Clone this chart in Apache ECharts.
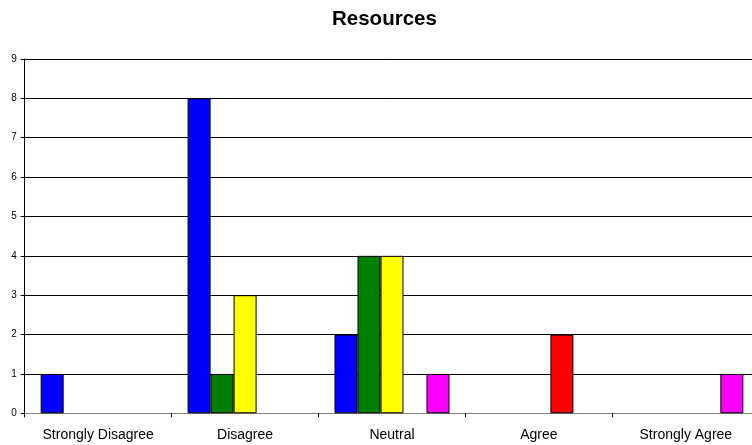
<!DOCTYPE html>
<html>
<head>
<meta charset="utf-8">
<title>Resources</title>
<script src="https://cdn.jsdelivr.net/npm/echarts@6/dist/echarts.min.js"></script>
<style>
  html, body { margin: 0; padding: 0; background: #fff; }
  #chart { width: 752px; height: 445px; }
</style>
</head>
<body>
<div id="chart"></div>
<script>
// Response categories along the x axis
const categories = ['Strongly Disagree', 'Disagree', 'Neutral', 'Agree', 'Strongly Agree'];

// Counts per group
const seriesA = [1, 8, 2, 0, 0];
const seriesB = [0, 1, 4, 0, 0];
const seriesC = [0, 3, 4, 0, 0];
const seriesD = [0, 0, 0, 2, 0];
const seriesE = [0, 0, 1, 0, 1];

const seriesNames = ['Series 1', 'Series 2', 'Series 3', 'Series 4', 'Series 5'];
const seriesColors = ['#0000ff', '#008000', '#ffff00', '#ff0000', '#ff00ff'];

// y axis ticks
const yMin = 0, yMax = 9, yStep = 1;

const allValues = [seriesA, seriesB, seriesC, seriesD, seriesE];

const chart = echarts.init(document.getElementById('chart'), null, { renderer: 'canvas' });

chart.setOption({
  animation: false,
  backgroundColor: '#ffffff',
  title: {
    text: 'Resources',
    left: 332,
    top: 9,
    padding: 0,
    textStyle: {
      fontFamily: 'Liberation Sans, Arial, sans-serif',
      fontWeight: 'bold',
      fontSize: 20.5,
      color: '#000'
    }
  },
  grid: {
    left: 24.7,
    right: -7.3,
    top: 59,
    bottom: 31.7,
    containLabel: false,
    outerBoundsMode: 'none'
  },
  xAxis: {
    type: 'category',
    data: categories,
    boundaryGap: true,
    axisLine: { lineStyle: { color: '#808080', width: 1 } },
    axisTick: { show: true, length: 4, inside: false, lineStyle: { color: '#000' } },
    axisLabel: {
      margin: 15,
      fontFamily: 'Liberation Sans, Arial, sans-serif',
      fontSize: 14,
      color: '#000'
    },
    splitLine: { show: false }
  },
  yAxis: {
    type: 'value',
    min: yMin,
    max: yMax,
    interval: yStep,
    axisLine: { show: true, lineStyle: { color: '#000', width: 1 } },
    axisTick: { show: true, length: 4, lineStyle: { color: '#000' } },
    axisLabel: {
      margin: 8,
      fontFamily: 'Liberation Sans, Arial, sans-serif',
      fontSize: 10,
      color: '#000'
    },
    splitLine: { show: true, lineStyle: { color: '#000', width: 1 } }
  },
  series: allValues.map((vals, i) => ({
    name: seriesNames[i],
    type: 'bar',
    barWidth: 23,
    barGap: '0%',
    data: vals.map(v => (v === 0 ? '-' : v)),
    itemStyle: {
      color: seriesColors[i],
      borderColor: '#000',
      borderWidth: 1
    }
  }))
});
</script>
</body>
</html>
